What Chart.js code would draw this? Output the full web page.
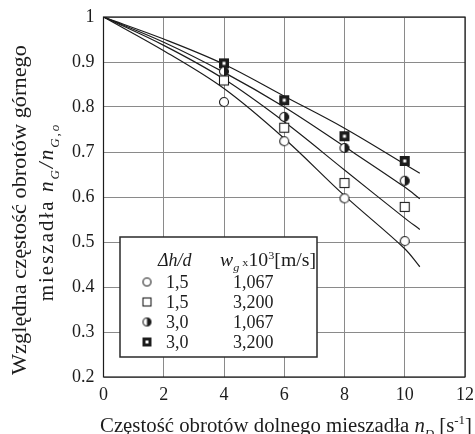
<!DOCTYPE html>
<html>
<head>
<meta charset="utf-8">
<script src="https://cdn.jsdelivr.net/npm/chart.js@4.4.1/dist/chart.umd.min.js"></script>
<style>
  html, body { margin: 0; padding: 0; background: #fff; }
  #wrap { position: relative; width: 475px; height: 434px; }
</style>
</head>
<body>
<div id="wrap"><canvas id="mixChart" width="475" height="434"></canvas></div>
<script>
// measured points, n_D [1/s]
const nD = [4, 6, 8, 10];
const ratio_15_1067 = [0.811, 0.724, 0.597, 0.502];
const ratio_15_3200 = [0.859, 0.754, 0.631, 0.578];
const ratio_30_1067 = [0.879, 0.778, 0.709, 0.636];
const ratio_30_3200 = [0.897, 0.815, 0.735, 0.680];

// fitted curves
const fitX = [0, 2, 4, 6, 8, 10, 10.5];
const fit_30_3200 = [1, 0.951, 0.895, 0.824, 0.753, 0.673, 0.653];
const fit_30_1067 = [1, 0.944, 0.877, 0.800, 0.712, 0.622, 0.596];
const fit_15_3200 = [1, 0.937, 0.862, 0.767, 0.660, 0.553, 0.528];
const fit_15_1067 = [1, 0.925, 0.841, 0.730, 0.603, 0.485, 0.445];

const xTicks = [0, 2, 4, 6, 8, 10, 12];
const yTicks = [0.2, 0.3, 0.4, 0.5, 0.6, 0.7, 0.8, 0.9, 1];

const legendDh = ['1,5', '1,5', '3,0', '3,0'];
const legendWg = ['1,067', '3,200', '1,067', '3,200'];
const legendMarks = ['circle', 'square', 'half', 'bold'];

const INK = '#1c1c1c';
const SERIF = '"Liberation Serif", "DejaVu Serif", serif';

document.addEventListener('DOMContentLoaded', function() {

function makeMarker(kind, s) {
    var c = document.createElement('canvas');
    c.width = s + 4; c.height = s + 4;
    var g = c.getContext('2d');
    var m = c.width / 2, r = s / 2;
    g.lineWidth = 1.1;
    g.strokeStyle = INK;
    if (kind === 'circle' || kind === 'half') {
        g.beginPath(); g.arc(m, m, r - 0.5, 0, Math.PI * 2);
        g.fillStyle = '#fff'; g.fill();
        if (kind === 'half') {
            g.beginPath(); g.arc(m, m, r - 0.5, -Math.PI / 2, Math.PI / 2);
            g.closePath(); g.fillStyle = INK; g.fill();
        }
        g.beginPath(); g.arc(m, m, r - 0.5, 0, Math.PI * 2); g.stroke();
    } else if (kind === 'square') {
        g.fillStyle = '#fff';
        g.fillRect(m - r, m - r, s, s);
        g.strokeRect(m - r + 0.5, m - r + 0.5, s - 1, s - 1);
    } else {
        g.fillStyle = INK;
        g.fillRect(m - r, m - r, s, s);
        var w = Math.max(2, Math.round(s * 0.3));
        g.fillStyle = '#fff';
        g.fillRect(m - w / 2, m - w / 2, w, w);
    }
    return c;
}

function fontFor(p, size) {
    var sz = (p.sub || p.sup || p.small) ? size * 0.62 : size;
    return (p.it ? 'italic ' : '') + sz + 'px ' + SERIF;
}

function richWidth(ctx, parts, size) {
    var w = 0;
    parts.forEach(function(p) { ctx.font = fontFor(p, size); w += ctx.measureText(p.t).width; });
    return w;
}

// draws mixed italic / sub / sup text; if fitW is given the run is stretched to that width
function drawRich(ctx, parts, x, y, size, align, fitW) {
    var natural = richWidth(ctx, parts, size);
    var sx = fitW ? fitW / natural : 1;
    ctx.save();
    ctx.translate(x, y);
    ctx.scale(sx, 1);
    var cx = align === 'center' ? -natural / 2 : 0;
    parts.forEach(function(p) {
        ctx.font = fontFor(p, size);
        var dy = p.sub ? size * 0.28 : (p.sup ? -size * 0.38 : 0);
        ctx.fillText(p.t, cx, dy);
        cx += ctx.measureText(p.t).width;
    });
    ctx.restore();
}

function toXY(xs, ys) {
    return xs.map(function(x, i) { return { x: x, y: ys[i] }; });
}

function pointSet(label, ys, kind) {
    return {
        label: label,
        data: toXY(nD, ys),
        showLine: false,
        pointStyle: makeMarker(kind, 10),
        pointRadius: 6,
        order: 0
    };
}

function fitSet(ys) {
    return {
        data: toXY(fitX, ys),
        borderColor: INK,
        borderWidth: 1.2,
        pointRadius: 0,
        tension: 0.35,
        fill: false,
        order: 1
    };
}

var textPlugin = {
    id: 'textPlugin',
    afterDraw: function(chart) {
        var ctx = chart.ctx, a = chart.chartArea;
        ctx.save();
        // frame
        ctx.strokeStyle = INK; ctx.lineWidth = 1.2;
        ctx.strokeRect(a.left, a.top, a.right - a.left, a.bottom - a.top);

        ctx.fillStyle = INK;
        ctx.textBaseline = 'alphabetic';
        // x title
        drawRich(ctx, [
            { t: 'Częstość obrotów dolnego mieszadła ' },
            { t: 'n', it: true }, { t: 'D', it: true, sub: true },
            { t: ' [s' }, { t: '-1', sup: true }, { t: ']' }
        ], 286, 432, 20, 'center', 372);

        // y title, two lines
        ctx.save();
        ctx.translate(26, 210);
        ctx.rotate(-Math.PI / 2);
        drawRich(ctx, [{ t: 'Względna częstość obrotów górnego' }], 0, 0, 21, 'center', 330);
        ctx.restore();
        ctx.save();
        ctx.translate(53, 212);
        ctx.rotate(-Math.PI / 2);
        ctx.letterSpacing = '2px';
        drawRich(ctx, [
            { t: 'mieszadła ' }, { t: 'n', it: true }, { t: 'G', it: true, sub: true },
            { t: '/', it: true }, { t: 'n', it: true }, { t: 'G,o', it: true, sub: true }
        ], 0, 0, 21, 'center');
        ctx.letterSpacing = '0px';
        ctx.restore();

        // legend box
        var bx = 120, by = 237, bw = 197, bh = 120;
        ctx.fillStyle = '#fff';
        ctx.fillRect(bx, by, bw, bh);
        ctx.strokeStyle = '#2a2a2a'; ctx.lineWidth = 1.5;
        ctx.strokeRect(bx, by, bw, bh);
        ctx.fillStyle = INK;
        drawRich(ctx, [{ t: 'Δh/d', it: true }], 158, 266, 18);
        drawRich(ctx, [
            { t: 'w', it: true }, { t: 'g', it: true, sub: true }, { t: ' x', small: true },
            { t: '10' }, { t: '3', sup: true }, { t: '[m/s]' }
        ], 220, 266, 18, null, 96);
        for (var i = 0; i < legendDh.length; i++) {
            var ry = 282 + i * 20;
            var mk = makeMarker(legendMarks[i], 9);
            ctx.drawImage(mk, 147 - mk.width / 2, ry - mk.height / 2);
            ctx.font = '18px ' + SERIF;
            ctx.fillText(legendDh[i], 166, ry + 6);
            ctx.fillText(legendWg[i], 233, ry + 6);
        }
        ctx.restore();
    }
};

new Chart(document.getElementById('mixChart'), {
    type: 'line',
    data: {
        datasets: [
            pointSet('1,5 / 1,067', ratio_15_1067, 'circle'),
            pointSet('1,5 / 3,200', ratio_15_3200, 'square'),
            pointSet('3,0 / 1,067', ratio_30_1067, 'half'),
            pointSet('3,0 / 3,200', ratio_30_3200, 'bold'),
            fitSet(fit_30_3200),
            fitSet(fit_30_1067),
            fitSet(fit_15_3200),
            fitSet(fit_15_1067)
        ]
    },
    options: {
        responsive: false,
        animation: false,
        layout: { padding: { left: 0, right: 10, top: 17, bottom: 0 } },
        plugins: { legend: { display: false }, tooltip: { enabled: false } },
        scales: {
            x: {
                type: 'linear',
                min: 0, max: 12,
                afterBuildTicks: function(s) { s.ticks = xTicks.map(function(v) { return { value: v }; }); },
                afterFit: function(s) { s.height = 57; s.paddingLeft = 0; s.paddingRight = 0; },
                grid: { color: '#8a8a8a', lineWidth: 1, drawTicks: false },
                border: { display: false },
                ticks: { color: INK, padding: 7, font: { family: SERIF, size: 18 } }
            },
            y: {
                min: 0.2, max: 1,
                afterBuildTicks: function(s) { s.ticks = yTicks.map(function(v) { return { value: v }; }); },
                afterFit: function(s) { s.width = 103.5; s.paddingTop = 0; s.paddingBottom = 0; },
                grid: { color: '#8a8a8a', lineWidth: 1, drawTicks: false },
                border: { display: false },
                ticks: {
                    color: INK, padding: 9, font: { family: SERIF, size: 18 },
                    callback: function(v) { return v === 1 ? '1' : v.toFixed(1); }
                }
            }
        }
    },
    plugins: [textPlugin]
});
});
</script>
</body>
</html>
